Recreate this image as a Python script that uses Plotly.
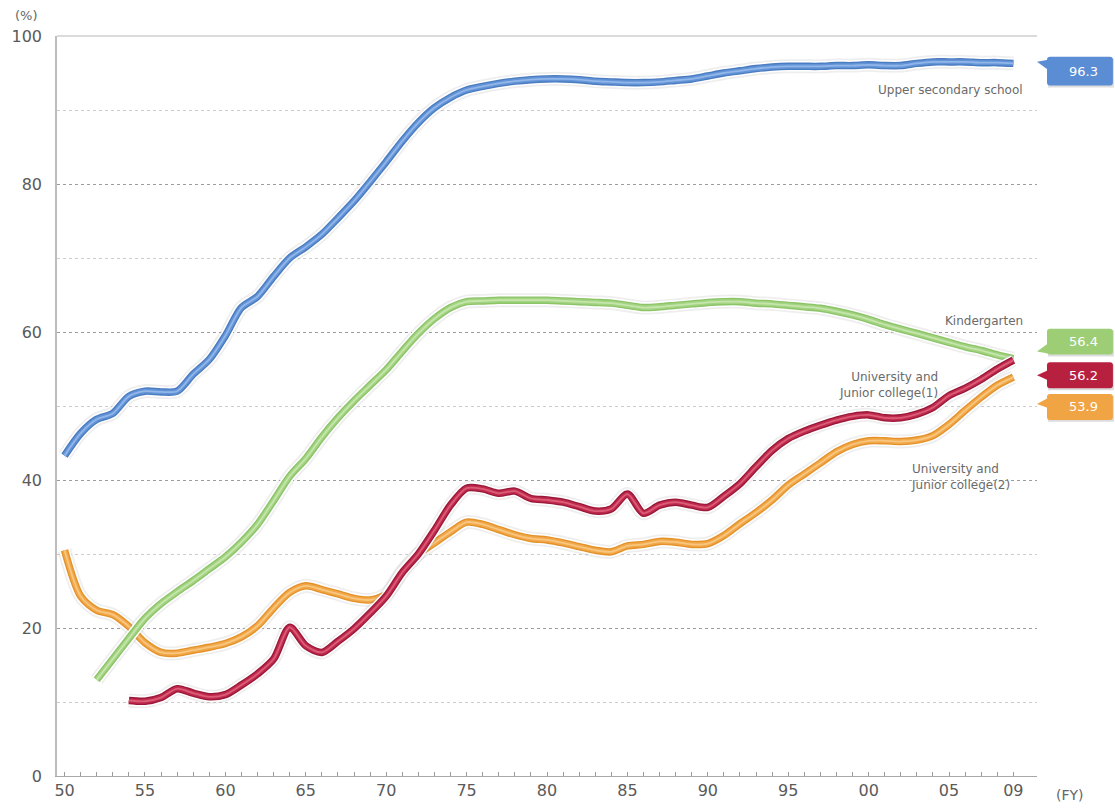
import plotly.graph_objects as go

# ---------------- data ----------------
years = list(range(1950, 2010))
upper_secondary = [43.3, 46.3, 48.2, 49.0, 51.3, 52.0, 51.9, 52.0, 54.3, 56.3,
                   59.5, 63.3, 64.8, 67.5, 70.0, 71.5, 73.2, 75.4, 77.7, 80.3,
                   83.0, 85.8, 88.3, 90.3, 91.7, 92.7, 93.2, 93.6, 93.9, 94.1,
                   94.2, 94.2, 94.1, 93.9, 93.8, 93.7, 93.7, 93.8, 94.0, 94.2,
                   94.6, 95.0, 95.3, 95.6, 95.8, 95.9, 95.9, 95.9, 96.0, 96.0,
                   96.1, 96.0, 96.0, 96.3, 96.5, 96.5, 96.5, 96.4, 96.4, 96.3]

kinder_years = list(range(1952, 2010))
kindergarten = [13.0, 15.8, 18.6, 21.3, 23.3, 24.9, 26.4, 28.0, 29.6, 31.6,
                34.0, 37.2, 40.5, 42.9, 45.8, 48.4, 50.7, 52.8, 54.9, 57.4,
                59.8, 61.8, 63.3, 64.1, 64.2, 64.3, 64.3, 64.3, 64.3, 64.2,
                64.1, 64.0, 63.9, 63.6, 63.3, 63.4, 63.6, 63.8, 64.0, 64.1,
                64.1, 63.9, 63.8, 63.6, 63.4, 63.2, 62.8, 62.3, 61.7, 61.0,
                60.4, 59.8, 59.2, 58.6, 58.0, 57.5, 56.9, 56.4]

univ1_years = list(range(1954, 2010))
univ_jc_1 = [10.2, 10.1, 10.6, 11.8, 11.2, 10.7, 11.0, 12.3, 13.8, 15.8,
             20.1, 17.6, 16.7, 18.2, 19.9, 22.0, 24.3, 27.5, 30.0, 33.2,
             36.6, 38.9, 38.8, 38.2, 38.5, 37.5, 37.3, 37.0, 36.4, 35.8,
             36.1, 38.1, 35.5, 36.6, 37.0, 36.6, 36.3, 37.8, 39.5, 41.8,
             44.0, 45.6, 46.6, 47.4, 48.1, 48.6, 48.8, 48.4, 48.4, 48.9,
             49.8, 51.4, 52.4, 53.6, 55.0, 56.2]

univ2_years = list(range(1950, 2010))
univ_jc_2 = [30.5, 24.3, 22.4, 21.8, 20.2, 18.0, 16.7, 16.6, 17.0, 17.4,
             17.9, 18.8, 20.3, 22.7, 24.8, 25.7, 25.2, 24.6, 24.0, 23.8,
             24.6, 27.7, 30.0, 31.5, 33.0, 34.3, 34.0, 33.3, 32.6, 32.1,
             31.9, 31.5, 31.0, 30.5, 30.3, 31.1, 31.3, 31.7, 31.6, 31.3,
             31.4, 32.5, 34.1, 35.6, 37.3, 39.3, 40.8, 42.3, 43.8, 44.8,
             45.3, 45.3, 45.2, 45.4, 46.0, 47.5, 49.4, 51.2, 52.8, 53.9]

x_tick_years = list(range(1950, 2010))
x_labelled = {1950: "50", 1955: "55", 1960: "60", 1965: "65", 1970: "70",
              1975: "75", 1980: "80", 1985: "85", 1990: "90", 1995: "95",
              2000: "00", 2005: "05", 2009: "09"}
y_tick_values = [0, 20, 40, 60, 80, 100]
y_minor_values = [10, 30, 50, 70, 90]

# ---------------- layout helpers (pixels) ----------------
W, H = 1115, 812
PL, PR, PT, PB = 56, 1037, 36, 782


def fx(x):
    return (x - PL) / (PR - PL)


def fy(y):
    return (PB - y) / (PB - PT)


FONT = "DejaVu Sans"

series = [
    dict(name="University and Junior college(2)", x=univ2_years, y=univ_jc_2,
         edge="#e5922a", main="#f1a84a", hi="#f8c67e", box="#f0a444",
         box_y=(397, 423), tip=(1037, 407), base=(401, 411)),
    dict(name="Kindergarten", x=kinder_years, y=kindergarten,
         edge="#8cc468", main="#a4d383", hi="#c4e6aa", box="#9dce76",
         box_y=(331, 357), tip=(1037, 354), base=(346, 356)),
    dict(name="University and Junior college(1)", x=univ1_years, y=univ_jc_1,
         edge="#9c1839", main="#bf2b4d", hi="#dc5c78", box="#b7203f",
         box_y=(365, 391), tip=(1037, 378), base=(373, 383)),
    dict(name="Upper secondary school", x=years, y=upper_secondary,
         edge="#4a7cc2", main="#6494d6", hi="#90b6ea", box="#5b8dd4",
         box_y=(57, 86), tip=(1037, 62), base=(60, 70)),
]

fig = go.Figure()
for s in series:
    for width, color in [(14, "rgba(150,150,150,0.16)"), (10.5, "#ffffff"),
                         (7.5, s["edge"]), (4.8, s["main"]), (1.8, s["hi"])]:
        fig.add_trace(go.Scatter(
            x=s["x"], y=s["y"], mode="lines", name=s["name"],
            line=dict(color=color, width=width, shape="spline", smoothing=0.8),
            hoverinfo="skip", showlegend=False))

shapes = []
annotations = []
# top border line
shapes.append(dict(type="line", xref="paper", yref="paper", x0=0, x1=1,
                   y0=1, y1=1, line=dict(color="#cfcfcf", width=1.5), layer="above"))

for s in series:
    y0, y1 = s["box_y"]
    bx0, bx1 = 1047, 1113
    r = 3
    path = (f"M {fx(bx0 + r)} {fy(y0)} L {fx(bx1 - r)} {fy(y0)} "
            f"Q {fx(bx1)} {fy(y0)} {fx(bx1)} {fy(y0 + r)} "
            f"L {fx(bx1)} {fy(y1 - r)} Q {fx(bx1)} {fy(y1)} {fx(bx1 - r)} {fy(y1)} "
            f"L {fx(bx0 + r)} {fy(y1)} Q {fx(bx0)} {fy(y1)} {fx(bx0)} {fy(y1 - r)} "
            f"L {fx(bx0)} {fy(y0 + r)} Q {fx(bx0)} {fy(y0)} {fx(bx0 + r)} {fy(y0)} Z")
    # shadow
    shapes.append(dict(type="rect", xref="paper", yref="paper",
                       x0=fx(bx0 + 1), x1=fx(bx1 + 1), y0=fy(y1 + 2), y1=fy(y0 + 2),
                       fillcolor="rgba(120,120,120,0.25)", line=dict(width=0)))
    shapes.append(dict(type="path", xref="paper", yref="paper", path=path,
                       fillcolor=s["box"], line=dict(width=0)))
    tx, ty = s["tip"]
    b0, b1 = s["base"]
    tri = (f"M {fx(tx)} {fy(ty)} L {fx(bx0 + 1)} {fy(b0)} "
           f"L {fx(bx0 + 1)} {fy(b1)} Z")
    shapes.append(dict(type="path", xref="paper", yref="paper", path=tri,
                       fillcolor=s["box"], line=dict(width=0)))
    annotations.append(dict(xref="paper", yref="paper", x=fx((bx0 + bx1) / 2 + 4),
                            y=fy((y0 + y1) / 2), text=f"{s['y'][-1]:.1f}",
                            showarrow=False, xanchor="center", yanchor="middle",
                            font=dict(family=FONT, size=13, color="#ffffff")))

label_font = dict(family=FONT, size=12, color="#6a6a6a")
annotations += [
    dict(xref="paper", yref="paper", x=fx(1025), y=fy(90), text="Upper secondary school",
         showarrow=False, xanchor="right", yanchor="middle", font=label_font),
    dict(xref="paper", yref="paper", x=fx(1025), y=fy(323), text="Kindergarten",
         showarrow=False, xanchor="right", yanchor="middle", font=label_font),
    dict(xref="paper", yref="paper", x=fx(940), y=fy(388),
         text="University and<br>Junior college(1)", align="right",
         showarrow=False, xanchor="right", yanchor="middle", font=label_font),
    dict(xref="paper", yref="paper", x=fx(909), y=fy(481),
         text="University and<br>Junior college(2)", align="left",
         showarrow=False, xanchor="left", yanchor="middle", font=label_font),
    dict(xref="paper", yref="paper", x=fx(25), y=fy(15), text="(%)",
         showarrow=False, xanchor="center", yanchor="middle",
         font=dict(family=FONT, size=13, color="#666666")),
    dict(xref="paper", yref="paper", x=fx(1070), y=fy(801), text="(FY)",
         showarrow=False, xanchor="center", yanchor="middle",
         font=dict(family=FONT, size=14, color="#666666")),
]

tick_font = dict(family=FONT, size=16, color="#5a5a5a")
fig.update_layout(
    width=W, height=H,
    margin=dict(l=PL, r=W - PR, t=PT, b=H - PB),
    paper_bgcolor="#ffffff", plot_bgcolor="#ffffff",
    showlegend=False,
    shapes=shapes, annotations=annotations,
    xaxis=dict(range=[1949.53, 2010.47], tickvals=x_tick_years,
               ticktext=[x_labelled.get(v, "") for v in x_tick_years],
               ticks="inside", ticklen=4, tickcolor="#9a9a9a", tickwidth=1,
               showline=True, linecolor="#a8a8a8", linewidth=1,
               showgrid=False, zeroline=False, tickfont=tick_font),
    yaxis=dict(range=[0, 100], tickvals=y_tick_values,
               showgrid=True, gridcolor="#9c9c9c", griddash="3px,3px", gridwidth=1,
               minor=dict(tickvals=y_minor_values, showgrid=True,
                          gridcolor="#cdcdcd", griddash="3px,3px", gridwidth=1),
               showline=True, linecolor="#bdbdbd", linewidth=1.5,
               ticks="", ticklabelstandoff=10, zeroline=False, tickfont=tick_font),
)

fig.write_html("out.html", config={"displayModeBar": False},
               post_script="document.body.style.margin='0';document.body.style.overflow='hidden';")
